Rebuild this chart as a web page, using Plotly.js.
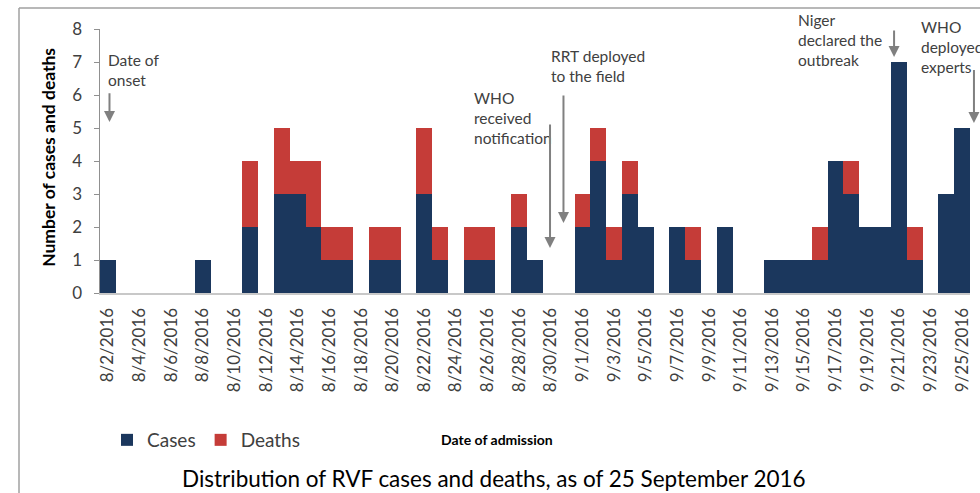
<!DOCTYPE html>
<html><head><meta charset="utf-8">
<script src="https://cdn.plot.ly/plotly-3.0.1.min.js"></script>
<style>html,body{margin:0;padding:0;background:#fff}#chart{width:980px;height:493px}</style>
</head><body><div id="chart"></div>
<script>
const dates = ["8/2/2016","8/3/2016","8/4/2016","8/5/2016","8/6/2016","8/7/2016","8/8/2016","8/9/2016","8/10/2016","8/11/2016",
"8/12/2016","8/13/2016","8/14/2016","8/15/2016","8/16/2016","8/17/2016","8/18/2016","8/19/2016","8/20/2016","8/21/2016",
"8/22/2016","8/23/2016","8/24/2016","8/25/2016","8/26/2016","8/27/2016","8/28/2016","8/29/2016","8/30/2016","8/31/2016",
"9/1/2016","9/2/2016","9/3/2016","9/4/2016","9/5/2016","9/6/2016","9/7/2016","9/8/2016","9/9/2016","9/10/2016",
"9/11/2016","9/12/2016","9/13/2016","9/14/2016","9/15/2016","9/16/2016","9/17/2016","9/18/2016","9/19/2016","9/20/2016",
"9/21/2016","9/22/2016","9/23/2016","9/24/2016","9/25/2016"];
const cases = [1,0,0,0,0,0,1,0,0,2, 0,3,3,2,1,1,0,1,1,0, 3,1,0,1,1,0,2,1,0,0, 2,4,1,3,2,0,2,1,0,2, 0,0,1,1,1,1,4,3,2,2, 7,1,0,3,5];
const deaths = [0,0,0,0,0,0,0,0,0,2, 0,2,1,2,1,1,0,1,1,0, 2,1,0,1,1,0,1,0,0,0, 1,1,1,1,0,0,0,1,0,0, 0,0,0,0,0,1,0,1,0,0, 0,1,0,0,0];
const tickDates = dates.filter((d,i)=>i%2===0);
const events = [
  {label:"Date of<br>onset", date:"8/2/2016"},
  {label:"WHO<br>received<br>notification", date:"8/30/2016"},
  {label:"RRT deployed<br>to the field", date:"8/31/2016"},
  {label:"Niger<br>declared the<br>outbreak", date:"9/20/2016"},
  {label:"WHO<br>deployed<br>experts", date:"9/25/2016"}
];

const FONT = "Lato, 'Open Sans', sans-serif";
const txt = "#404040";
const arrowCol = "#808080";

const traces = [
  {type:"bar", name:"Cases", x:dates, y:cases, marker:{color:"#1b375d"}},
  {type:"bar", name:"Deaths", x:dates, y:deaths, marker:{color:"#c53c38"}}
];

function idx(d){return dates.indexOf(d);}
const textPos = [[-0.1,6.76],[23.0,5.3],[27.9,6.88],[43.5,7.67],[51.3,7.45]];
const arrowPos = [[0.1,6.1,5.18],[-0.05,5.15,1.36],[-0.2,6.03,2.12],[0.7,8.0,7.15],[0.75,6.8,5.15]];

const ann = [];
events.forEach((e,i)=>{
  ann.push({xref:"x", yref:"y", x:textPos[i][0], y:textPos[i][1], text:e.label, showarrow:false,
    xanchor:"left", yanchor:"middle", align:"left", font:{family:FONT, size:15.5, color:txt}});
  const xp = (idx(e.date) + arrowPos[i][0] + 0.5) / dates.length;
  ann.push({xref:"paper", yref:"y", x:xp, y:arrowPos[i][2], ax:0, ay:arrowPos[i][1], axref:"pixel", ayref:"y",
    text:"", showarrow:true, arrowhead:2, arrowsize:1.1, arrowwidth:2, arrowcolor:arrowCol, standoff:0});
});
ann.push({xref:"paper", yref:"paper", x:-0.06, y:0.515, text:"<b>Number of cases and deaths</b>", textangle:-90,
  showarrow:false, xanchor:"center", yanchor:"middle", font:{family:FONT, size:17.5, color:"#000"}});
ann.push({xref:"paper", yref:"paper", x:(497-100)/870, y:(293-440)/264, text:"<b>Date of admission</b>",
  showarrow:false, xanchor:"center", yanchor:"middle", font:{family:FONT, size:14, color:"#000"}});
ann.push({xref:"paper", yref:"paper", x:(494-100)/870, y:(293-478)/264, text:"Distribution of RVF cases and deaths, as of 25 September 2016",
  showarrow:false, xanchor:"center", yanchor:"middle", font:{family:FONT, size:22.5, color:"#000"}});

const layout = {
  width:980, height:493,
  margin:{l:100, r:10, t:29, b:200},
  paper_bgcolor:"#fff", plot_bgcolor:"#fff",
  barmode:"stack", bargap:0,
  showlegend:true,
  legend:{orientation:"h", x:(107-100)/870, y:(293-440)/264, xanchor:"left", yanchor:"middle",
    traceorder:"normal", font:{family:FONT, size:19, color:txt}, itemwidth:30},
  xaxis:{type:"category", range:[-0.5,54.5], tickmode:"array", tickvals:tickDates, ticktext:tickDates,
    tickangle:-90, tickfont:{family:FONT, size:17, color:txt}, showgrid:false, zeroline:false,
    showline:true, linecolor:"#c8c8c8", linewidth:2, ticks:"", ticklabelstandoff:6, fixedrange:true},
  yaxis:{range:[0,8], dtick:1, tickfont:{family:FONT, size:17, color:txt}, showgrid:false, zeroline:false,
    showline:true, linecolor:"#909090", linewidth:1.5, ticks:"outside", ticklen:5, tickcolor:"#909090",
    ticklabelstandoff:8, fixedrange:true},
  annotations:ann,
  shapes:[
    {type:"line", xref:"paper", yref:"paper", x0:(19-100)/870, x1:1.2, y0:(293-8)/264, y1:(293-8)/264, line:{color:"#a0a0a0", width:1.5}},
    {type:"line", xref:"paper", yref:"paper", x0:(19-100)/870, x1:(19-100)/870, y0:(293-8)/264, y1:-1.0, line:{color:"#a0a0a0", width:1.5}}
  ],
  font:{family:FONT}
};
Plotly.newPlot("chart", traces, layout, {displayModeBar:false, staticPlot:true});
</script></body></html>
